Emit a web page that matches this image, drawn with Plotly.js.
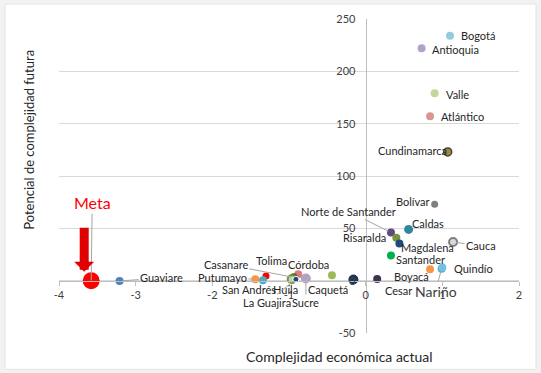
<!DOCTYPE html>
<html>
<head>
<meta charset="utf-8">
<script src="https://cdn.plot.ly/plotly-3.0.1.min.js"></script>
<style>html,body{margin:0;padding:0;background:#f2f2f2;}#chart{width:541px;height:373px;}</style>
</head>
<body>
<div id="chart"></div>
<script>
// ---- data ----
const names = ['Bogotá','Antioquia','Valle','Atlántico','Cundinamarca','Bolívar','Caldas','Norte de Santander','Risaralda','Magdalena','Cauca','Santander','Boyacá','Nariño','Quindío','Cesar','','Caquetá','Sucre','Córdoba','Casanare','Huila','La Guajira','Tolima','San Andrés','Putumayo','Guaviare','Meta'];
const complejidadActual = [1.10,0.73,0.90,0.84,1.07,0.90,0.56,0.33,0.40,0.44,1.14,0.33,0.84,0.99,1.00,0.15,-0.16,-0.44,-0.78,-0.88,-0.94,-0.965,-0.91,-1.30,-1.34,-1.44,-3.21,-3.58];
const potencialFuturo = [234,222,179,157,123,73,49,46,41,35.5,37,24,11,11.5,12.5,1.6,1.1,5.2,2,6.1,3.2,1.3,1.3,4.5,0.4,1.3,-0.3,0];
const xTickVals = [-4,-3,-2,-1,0,1,2];
const xTickText = ['-4','-3','-2','-1','0','1','2'];
const yTickVals = [-50,0,50,100,150,200,250];
const yTickText = ['-50','0','50','100','150','200','250'];

// ---- styles ----
const colors = ['#93cddd','#b3a2c7','#c3d69b','#d99694','#948a54','#7f7f7f','#31859c','#604a7b','#77933c','#1f497d','#d9d9d9','#00b050','#f79646','#4bacc6','#72c1de','#403152','#17375e','#9bbb59','#b3a2c7','#da7d7b','#4f6228','#c3d69b','#1f497d','#ff0000','#4bacc6','#f79646','#4f81bd','#ff0000'];
const lineColors = ['#93cddd','#b3a2c7','#c3d69b','#d99694','#4a452a','#7f7f7f','#31859c','#604a7b','#77933c','#1f497d','#7f7f7f','#00b050','#f79646','#4bacc6','#72c1de','#403152','#0f243e','#9bbb59','#b3a2c7','#da7d7b','#4f6228','#77933c','#ffffff','#ff0000','#4bacc6','#f79646','#4f81bd','#ff0000'];
const lineWidths = [0,0,0,0,1.5,0,0,0,0,0,2,0,0,0,0,0,1,0,0,0,0,2,1,0,0,0,0,0];
const sizes = [8,8,8,8,8,7,9,8,8,8,8,8,8,8,8,8,9,8,10,8,8,8,6,7,8,8,8,17];
// label offsets in pixels (text centre relative to point) and leader flags
const labelDx = [28,34,23,32,-35,-22,19,-42,-32,28,28,30,-19,-6,31,21,0,-4,0,10,-68,-6,-29,5,-14,-33,42,1];
const labelDy = [0,1,1,0,-1,-3,-6,-21,0,4,4,4,7,23,1,12,0,14,24,-10,-13,10,23,-15,9,-2,-3,-78];
const leader =  [0,0,0,0,0,0,0,1,0,0,1,0,0,1,0,0,0,0,1,0,1,0,1,0,0,1,1,1];

const FONT = 'Lato, "Open Sans", sans-serif';

const trace = {
  type: 'scatter', mode: 'markers',
  x: complejidadActual, y: potencialFuturo, text: names,
  hoverinfo: 'text+x+y',
  marker: {color: colors, size: sizes, line: {color: lineColors, width: lineWidths}, opacity: 1}
};

const annotations = [];
names.forEach((n, i) => {
  if (!n) return;
  const isMeta = n === 'Meta';
  annotations.push({
    x: complejidadActual[i], y: potencialFuturo[i], xref: 'x', yref: 'y',
    text: n, showarrow: true, ax: labelDx[i], ay: labelDy[i],
    arrowhead: 0, arrowwidth: 1, standoff: isMeta ? 0 : 3,
    arrowcolor: leader[i] ? '#a6a6a6' : 'rgba(0,0,0,0)',
    font: isMeta ? {family: FONT, size: 16, color: '#ff0000'}
         : {family: FONT, size: n === 'Nariño' ? 14 : 11, color: n === 'Nariño' ? '#404040' : '#262626'}
  });
});
// red block arrow pointing at Meta
const mi = names.indexOf('Meta');
annotations.push({
  x: complejidadActual[mi], y: potencialFuturo[mi], xref: 'x', yref: 'y',
  xshift: -7, yshift: 9, text: ' ', showarrow: true, ax: 0, ay: -52,
  arrowhead: 1, arrowwidth: 9, arrowsize: 0.37, arrowcolor: '#e00000', standoff: 0
});
// axis titles
annotations.push({xref: 'paper', yref: 'paper', x: 0.6087, y: -0.074, text: 'Complejidad económica actual',
  showarrow: false, font: {family: FONT, size: 14, color: '#262626'}, xanchor: 'center', yanchor: 'middle'});
annotations.push({xref: 'paper', yref: 'paper', x: -0.064, y: 0.614, text: 'Potencial de complejidad futura',
  showarrow: false, textangle: -90, font: {family: FONT, size: 13, color: '#262626'}, xanchor: 'center', yanchor: 'middle'});

const layout = {
  width: 541, height: 373,
  margin: {l: 59, r: 22, t: 19, b: 40.3},
  paper_bgcolor: '#f2f2f2', plot_bgcolor: 'rgba(0,0,0,0)',
  showlegend: false,
  font: {family: FONT, size: 11, color: '#404040'},
  xaxis: {range: [-4, 2], tickvals: xTickVals, ticktext: xTickText, anchor: 'free', position: 50/300,
    showgrid: false, zeroline: false, showline: true, linecolor: '#bfbfbf', linewidth: 1,
    ticks: 'outside', ticklen: 4, tickcolor: '#bfbfbf', tickfont: {family: FONT, size: 11, color: '#404040'}},
  yaxis: {range: [-50, 250], tickvals: yTickVals, ticktext: yTickText, anchor: 'free', position: 4/6,
    showgrid: true, gridcolor: '#d9d9d9', gridwidth: 1, zeroline: false, showline: true, linecolor: '#bfbfbf', linewidth: 1,
    ticks: '', ticklabelstandoff: 8, tickfont: {family: FONT, size: 11, color: '#404040'}},
  shapes: [{type: 'rect', xref: 'paper', yref: 'paper', x0: -0.1174, x1: 1.037, y0: -0.1157, y1: 1.0478,
    fillcolor: '#ffffff', line: {color: '#e3e3e3', width: 1}, layer: 'below'}],
  annotations: annotations
};

Plotly.newPlot('chart', [trace], layout, {displayModeBar: false, staticPlot: true});
</script>
</body>
</html>
